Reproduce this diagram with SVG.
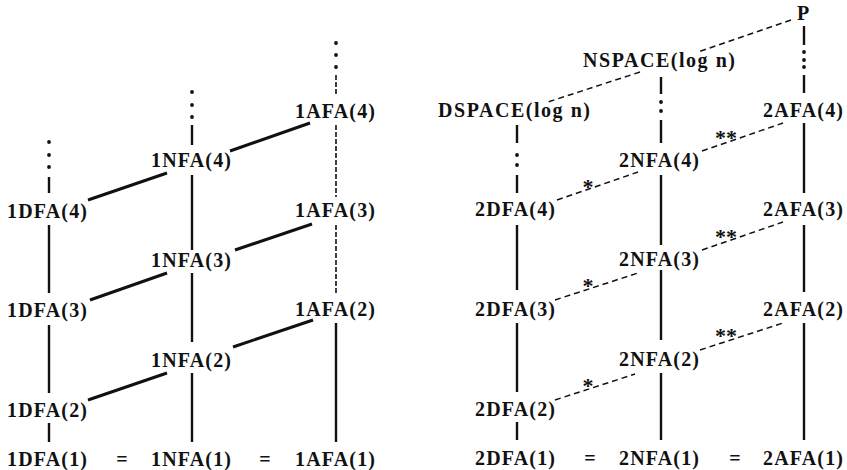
<svg xmlns="http://www.w3.org/2000/svg" width="847" height="470" viewBox="0 0 847 470">
<style>
text{font-family:"Liberation Serif","Times New Roman",serif;font-weight:bold;font-size:20px;fill:#111}
.star{font-size:22px}
.v{stroke:#111;stroke-width:2.4;fill:none}
.vd{stroke:#111;stroke-width:1.6;fill:none;stroke-dasharray:5 2}
.thick{stroke:#111;stroke-width:3;fill:none}
.dash{stroke:#111;stroke-width:1.5;fill:none;stroke-dasharray:6 4}
.dot{fill:#111}
</style>
<rect width="847" height="470" fill="#fff"/>
<g id="connectors">
  <!-- left DFA column x=49 -->
  <circle class="dot" cx="49" cy="142" r="1.9"/><circle class="dot" cx="49" cy="155" r="1.9"/><circle class="dot" cx="49" cy="167" r="1.9"/>
  <line class="v" x1="49" y1="177" x2="49" y2="193"/>
  <line class="v" x1="49" y1="225" x2="49" y2="293"/>
  <line class="v" x1="49" y1="325" x2="49" y2="393"/>
  <line class="v" x1="49" y1="423" x2="49" y2="442"/>
  <!-- left NFA column x=192 -->
  <circle class="dot" cx="192" cy="92" r="1.9"/><circle class="dot" cx="192" cy="105" r="1.9"/><circle class="dot" cx="192" cy="117" r="1.9"/>
  <line class="v" x1="192" y1="125" x2="192" y2="145"/>
  <line class="v" x1="192" y1="175" x2="192" y2="250"/>
  <line class="v" x1="192" y1="273" x2="192" y2="342"/>
  <line class="v" x1="192" y1="373" x2="192" y2="442"/>
  <!-- left AFA column x=336 -->
  <circle class="dot" cx="336" cy="43" r="1.9"/><circle class="dot" cx="336" cy="55" r="1.9"/><circle class="dot" cx="336" cy="67" r="1.9"/>
  <line class="vd" x1="336" y1="75" x2="336" y2="95"/>
  <line class="vd" x1="336" y1="125" x2="336" y2="197"/>
  <line class="vd" x1="336" y1="225" x2="336" y2="293"/>
  <line class="v" x1="336" y1="323" x2="336" y2="442"/>
  <!-- left thick diagonals -->
  <line class="thick" x1="88" y1="200" x2="167" y2="173"/>
  <line class="thick" x1="230" y1="151" x2="310" y2="123"/>
  <line class="thick" x1="90" y1="300" x2="167" y2="273"/>
  <line class="thick" x1="235" y1="250" x2="312" y2="224"/>
  <line class="thick" x1="88" y1="400" x2="167" y2="373"/>
  <line class="thick" x1="233" y1="347" x2="313" y2="320"/>
  <!-- right 2DFA column x=517 -->
  <line class="v" x1="517" y1="125" x2="517" y2="143"/>
  <circle class="dot" cx="517" cy="155" r="1.9"/><circle class="dot" cx="517" cy="165" r="1.9"/>
  <line class="v" x1="517" y1="175" x2="517" y2="193"/>
  <line class="v" x1="517" y1="225" x2="517" y2="290"/>
  <line class="v" x1="517" y1="323" x2="517" y2="392"/>
  <line class="v" x1="517" y1="422" x2="517" y2="440"/>
  <!-- right 2NFA column x=661 -->
  <line class="v" x1="661" y1="77" x2="661" y2="94"/>
  <circle class="dot" cx="661" cy="102" r="1.9"/><circle class="dot" cx="661" cy="111" r="1.9"/>
  <line class="v" x1="661" y1="120" x2="661" y2="143"/>
  <line class="v" x1="661" y1="175" x2="661" y2="245"/>
  <line class="v" x1="661" y1="270" x2="661" y2="340"/>
  <line class="v" x1="661" y1="373" x2="661" y2="440"/>
  <!-- right 2AFA column x=804 -->
  <line class="v" x1="804" y1="26" x2="804" y2="45"/>
  <circle class="dot" cx="804" cy="52" r="1.9"/><circle class="dot" cx="804" cy="60" r="1.9"/><circle class="dot" cx="804" cy="67" r="1.9"/>
  <line class="v" x1="804" y1="75" x2="804" y2="93"/>
  <line class="v" x1="804" y1="123" x2="804" y2="193"/>
  <line class="v" x1="804" y1="225" x2="804" y2="292"/>
  <line class="v" x1="804" y1="323" x2="804" y2="440"/>
  <!-- right dashed diagonals -->
  <line class="dash" x1="791" y1="20" x2="698" y2="52"/>
  <line class="dash" x1="640" y1="72" x2="548" y2="102"/>
  <line class="dash" x1="557" y1="200" x2="638" y2="172"/>
  <line class="dash" x1="702" y1="151" x2="783" y2="123"/>
  <line class="dash" x1="555" y1="300" x2="638" y2="273"/>
  <line class="dash" x1="702" y1="250" x2="783" y2="222"/>
  <line class="dash" x1="555" y1="400" x2="635" y2="374"/>
  <line class="dash" x1="700" y1="350" x2="783" y2="323"/>
  <text class="star" x="588" y="194" text-anchor="middle">*</text>
  <text class="star" x="588" y="293" text-anchor="middle">*</text>
  <text class="star" x="588" y="393" text-anchor="middle">*</text>
  <text class="star" x="726" y="145" text-anchor="middle">**</text>
  <text class="star" x="726" y="244" text-anchor="middle">**</text>
  <text class="star" x="726" y="343" text-anchor="middle">**</text>
</g>
<g id="n-1AFA4"><text x="295" y="118" textLength="80" lengthAdjust="spacing">1AFA(4)</text></g>
<g id="n-1NFA4"><text x="151" y="167" textLength="80" lengthAdjust="spacing">1NFA(4)</text></g>
<g id="n-1DFA4"><text x="7" y="218" textLength="80" lengthAdjust="spacing">1DFA(4)</text></g>
<g id="n-1AFA3"><text x="295" y="217" textLength="80" lengthAdjust="spacing">1AFA(3)</text></g>
<g id="n-1NFA3"><text x="151" y="267" textLength="80" lengthAdjust="spacing">1NFA(3)</text></g>
<g id="n-1DFA3"><text x="7" y="317" textLength="80" lengthAdjust="spacing">1DFA(3)</text></g>
<g id="n-1AFA2"><text x="295" y="316" textLength="80" lengthAdjust="spacing">1AFA(2)</text></g>
<g id="n-1NFA2"><text x="151" y="367" textLength="80" lengthAdjust="spacing">1NFA(2)</text></g>
<g id="n-1DFA2"><text x="7" y="417" textLength="80" lengthAdjust="spacing">1DFA(2)</text></g>
<g id="n-1row1">
  <text x="7" y="466" textLength="80" lengthAdjust="spacing">1DFA(1)</text>
  <text x="122" y="466" text-anchor="middle">=</text>
  <text x="151" y="466" textLength="80" lengthAdjust="spacing">1NFA(1)</text>
  <text x="265" y="466" text-anchor="middle">=</text>
  <text x="295" y="466" textLength="80" lengthAdjust="spacing">1AFA(1)</text>
</g>
<g id="n-P"><text x="797" y="20">P</text></g>
<g id="n-NSPACE"><text x="583" y="67" textLength="152" lengthAdjust="spacing">NSPACE(log n)</text></g>
<g id="n-DSPACE"><text x="438" y="117" textLength="152" lengthAdjust="spacing">DSPACE(log n)</text></g>
<g id="n-2AFA4"><text x="763" y="117" textLength="80" lengthAdjust="spacing">2AFA(4)</text></g>
<g id="n-2NFA4"><text x="619" y="167" textLength="80" lengthAdjust="spacing">2NFA(4)</text></g>
<g id="n-2DFA4"><text x="475" y="216" textLength="80" lengthAdjust="spacing">2DFA(4)</text></g>
<g id="n-2AFA3"><text x="763" y="216" textLength="80" lengthAdjust="spacing">2AFA(3)</text></g>
<g id="n-2NFA3"><text x="619" y="266" textLength="80" lengthAdjust="spacing">2NFA(3)</text></g>
<g id="n-2DFA3"><text x="475" y="316" textLength="80" lengthAdjust="spacing">2DFA(3)</text></g>
<g id="n-2AFA2"><text x="763" y="316" textLength="80" lengthAdjust="spacing">2AFA(2)</text></g>
<g id="n-2NFA2"><text x="619" y="366" textLength="80" lengthAdjust="spacing">2NFA(2)</text></g>
<g id="n-2DFA2"><text x="475" y="416" textLength="80" lengthAdjust="spacing">2DFA(2)</text></g>
<g id="n-2row1">
  <text x="475" y="465" textLength="80" lengthAdjust="spacing">2DFA(1)</text>
  <text x="590" y="465" text-anchor="middle">=</text>
  <text x="619" y="465" textLength="80" lengthAdjust="spacing">2NFA(1)</text>
  <text x="735" y="465" text-anchor="middle">=</text>
  <text x="763" y="465" textLength="80" lengthAdjust="spacing">2AFA(1)</text>
</g>
</svg>
